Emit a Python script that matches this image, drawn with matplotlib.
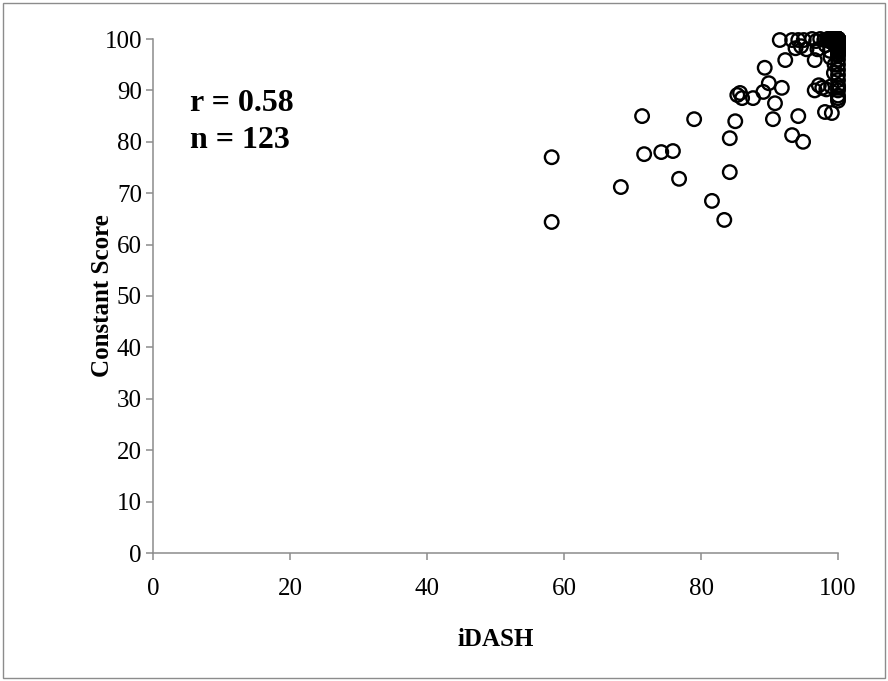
import matplotlib.pyplot as plt
from matplotlib.patches import Rectangle

plt.rcParams['font.family'] = ['Liberation Serif', 'DejaVu Serif']

# iDASH vs Constant Score (n = 123, many overlap at 100)
idash = [58.2, 58.2, 68.3, 71.4, 71.7, 74.2, 75.9, 76.8, 79.0, 81.6,
         83.4, 84.2, 84.2, 85.0, 90.5, 90.8, 93.3, 94.2, 94.9, 98.1,
         99.1,
         85.3, 85.7, 86.0, 87.6, 89.1, 89.9, 91.8,
         89.3, 92.3, 91.5, 93.3, 94.2, 95.0, 96.6, 98.8, 93.8, 94.6,
         95.4, 96.2, 96.8, 97.4, 98.0, 98.6, 99.2, 97.7, 98.3, 96.6,
         97.2, 99.0, 99.4, 99.5, 98.9, 99.6, 98.2, 97.0,
         100, 100, 100, 100, 100, 100, 100, 100, 100, 100,
         100, 100, 100, 100, 100, 100, 100, 100,
         100, 100, 100, 100, 100, 100, 100, 100, 100, 100,
         100, 100, 100, 100, 100, 100, 100, 100, 100, 100,
         100, 100, 100, 100, 100, 100, 100, 100, 100, 100,
         99.5, 99.6, 99.8, 99.4, 99.7, 99.5, 99.8, 99.6, 99.3, 99.7,
         98.8, 99.0, 98.5, 99.2, 98.7, 99.1, 98.9, 99.4, 99.0]
constant = [77.0, 64.4, 71.2, 85.0, 77.6, 78.0, 78.2, 72.8, 84.4, 68.5,
            64.8, 74.1, 80.7, 84.0, 84.4, 87.5, 81.3, 85.0, 80.0, 85.8,
            85.6,
            89.1, 89.5, 88.5, 88.5, 89.7, 91.4, 90.5,
            94.4, 95.9, 99.8, 99.8, 99.8, 99.8, 95.9, 97.7, 98.2, 98.6,
            98.0, 100, 99.6, 100, 99.8, 100, 100, 90.5, 90.2, 90.0,
            91.0, 90.8, 93.4, 95.0, 96.4, 98.6, 98.8, 98.0,
            100, 99.5, 99, 98.5, 98, 97.5, 97, 96, 95, 94,
            93, 92, 91, 90.5, 90, 89, 88, 88.5,
            100, 100, 100, 100, 100, 100, 100, 100, 100, 100,
            100, 100, 100, 100, 100, 100, 100, 100, 100, 100,
            99.6, 99.2, 98.8, 98.4, 99.8, 99.4, 99.0, 98.6, 97.8, 96.8,
            100, 100, 100, 100, 100, 99.5, 99.2, 99.8, 100, 99.0,
            100, 100, 100, 100, 99.6, 99.4, 100, 100, 99.8]

gray = '#8c8c8c'

fig = plt.figure(figsize=(8.88, 6.81), dpi=100)
ax = fig.add_axes([153/888, 1 - 553/681, 685/888, 514/681])

ax.scatter(idash, constant, s=95, facecolors='none', edgecolors='black',
           linewidths=1.7, clip_on=False, zorder=3)

ax.set_xlim(0, 100)
ax.set_ylim(0, 100)
ax.set_xticks(range(0, 101, 20))
ax.set_yticks(range(0, 101, 10))

for side in ['top', 'right']:
    ax.spines[side].set_visible(False)
for side in ['left', 'bottom']:
    ax.spines[side].set_color(gray)
    ax.spines[side].set_linewidth(1.1)

ax.tick_params(axis='both', colors=gray, labelcolor='black', labelsize=18,
               length=5, width=1.1, direction='out')
ax.tick_params(axis='x', pad=13)
ax.tick_params(axis='y', pad=3)

ax.set_xlabel('iDASH', fontsize=18, fontweight='bold')
ax.set_ylabel('Constant Score', fontsize=18, fontweight='bold')
ax.xaxis.set_label_coords(0.5, -0.145)
ax.yaxis.set_label_coords(-0.057, 0.5)

ax.text(5.4, 87.5, 'r = 0.58', fontsize=23, fontweight='bold', va='center')
ax.text(5.4, 80.2, 'n = 123', fontsize=23, fontweight='bold', va='center')

fig.patches.append(Rectangle((3/888, 3/681), 882/888, 675/681,
                             transform=fig.transFigure, fill=False,
                             edgecolor=gray, linewidth=1))

fig.savefig('out.png', dpi=100)
